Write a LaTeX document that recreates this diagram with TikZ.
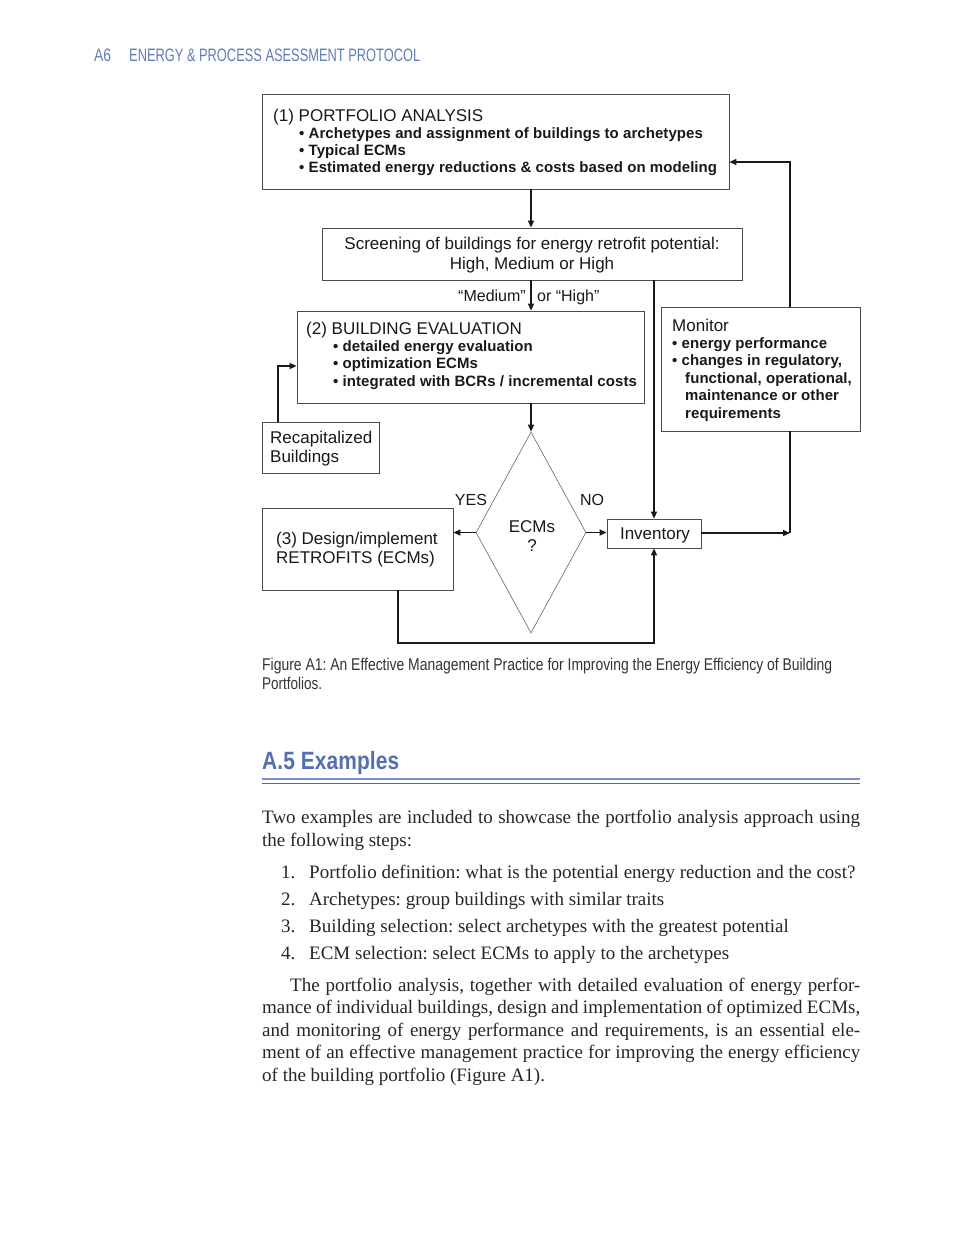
\documentclass[tikz,border=0pt]{standalone}
\usepackage{fontspec}
\usepackage{graphicx}
\setmainfont{Liberation Serif}
\newfontfamily\arialf{Liberation Sans}[BoldFeatures={LetterSpace=0.5}]
\usetikzlibrary{arrows.meta,shapes.geometric}
\definecolor{hdrblue}{RGB}{96,124,192}
\definecolor{headblue}{RGB}{84,110,182}
\definecolor{rulelight}{RGB}{120,142,206}
\definecolor{ruledark}{RGB}{78,102,176}
\begin{document}
\frenchspacing
\begin{tikzpicture}[x=1pt,y=-1pt,
  box/.style={draw=black!70, line width=0.8pt, inner sep=0pt, fill=white},
  txt/.style={anchor=base west, inner sep=0pt, font=\arialf\fontsize{17}{20}\selectfont, text=black!90},
  ctxt/.style={anchor=base, inner sep=0pt, font=\arialf\fontsize{17}{20}\selectfont, text=black!90},
  lbl/.style={inner sep=0pt, font=\arialf\fontsize{16}{19}\selectfont, text=black!90},
  btxt/.style={anchor=base west, inner sep=0pt, font=\arialf\bfseries\fontsize{15}{18}\selectfont, text=black!90},
  conn/.style={line width=1.4pt, black!90},
  arr/.style={conn, -{Triangle[length=7pt,width=6pt]}},
  body/.style={anchor=base west, inner sep=0pt, font=\fontsize{19}{22.5}\selectfont, text=black!85},
  captext/.style={anchor=base west, inner sep=0pt, font=\arialf\fontsize{17}{20}\selectfont, text=black!80}
]
\useasboundingbox[fill=white] (0,0) rectangle (954,1235);

% header
\node[anchor=base west, inner sep=0pt, text=hdrblue, font=\arialf\fontsize{18}{20}\selectfont] (hdA) at (94,61.5) {\resizebox{17pt}{\height}{A6}};
\node[anchor=base west, inner sep=0pt, text=hdrblue, font=\arialf\fontsize{18}{20}\selectfont] (hdB) at (129,61.5) {\resizebox{291pt}{\height}{ENERGY \& PROCESS ASESSMENT PROTOCOL}};

% boxes
\node[box, minimum width=467pt, minimum height=95pt] (b1) at (495.5,141.5) {};
\node[box, minimum width=420pt, minimum height=52pt] (scr) at (532,254) {};
\node[box, minimum width=347pt, minimum height=92pt] (b2) at (470.5,357) {};
\node[box, minimum width=199pt, minimum height=124pt] (mon) at (760.5,369) {};
\node[box, minimum width=117pt, minimum height=51pt] (rec) at (320.5,447.5) {};
\node[box, minimum width=191pt, minimum height=82pt] (b3) at (357.5,549) {};
\node[box, minimum width=94pt, minimum height=29pt] (inv) at (654,533.5) {};
\node[diamond, draw=black!60, line width=0.6pt, inner sep=0pt, minimum width=110pt, minimum height=201pt] (dia) at (531,532.5) {};

% box 1 text
\node[txt] (t1) at (273,121) {(1) PORTFOLIO ANALYSIS};
\node[btxt] (t1a) at (299,138.5) {•\ Archetypes and assignment of buildings to archetypes};
\node[btxt] (t1b) at (299,155.5) {•\ Typical ECMs};
\node[btxt] (t1c) at (299,172.5) {•\ Estimated energy reductions \& costs based on modeling};

% screening
\node[ctxt] (ts1) at (532,249) {Screening of buildings for energy retrofit potential:};
\node[ctxt] (ts2) at (532,269) {High, Medium or High};

% labels
\node[lbl, anchor=base east] (lm) at (526,301) {“Medium”};
\node[lbl, anchor=base west] (lh) at (537,301) {or “High”};

% box 2 text
\node[txt] (t2) at (306,334) {(2) BUILDING EVALUATION};
\node[btxt] (t2a) at (333,351) {•\ detailed energy evaluation};
\node[btxt] (t2b) at (333,368.5) {•\ optimization ECMs};
\node[btxt] (t2c) at (333,386) {•\ integrated with BCRs / incremental costs};

% monitor
\node[txt] (tm) at (672,331) {Monitor};
\node[btxt] (tma) at (672,348) {•\ energy performance};
\node[btxt] (tmb) at (672,365.5) {•\ changes in regulatory,};
\node[btxt] (tmc) at (685,383) {functional, operational,};
\node[btxt] (tmd) at (685,400.5) {maintenance or other};
\node[btxt] (tme) at (685,418) {requirements};

% recap
\node[txt] (tr1) at (270,443) {Recapitalized};
\node[txt] (tr2) at (270,462) {Buildings};

% box 3
\node[txt] (t3a) at (276,544) {(3) Design/implement};
\node[txt] (t3b) at (276,563) {RETROFITS (ECMs)};

% diamond text
\node[ctxt] (te1) at (532,532) {ECMs};
\node[ctxt] (te2) at (532,551) {?};
\node[lbl, anchor=base] (yes) at (471,505) {YES};
\node[lbl, anchor=base] (no) at (592,505) {NO};

% inventory
\node[ctxt] (ti) at (655,539.5) {Inventory};

% connectors
\coordinate (rc) at (278,366);
\coordinate (c3) at (398,643);
\coordinate (c4) at (790,533);
\coordinate (c5) at (790,162);
\draw[arr] (b1.south -| dia.north) -- (scr.north -| dia.north);
\draw[arr] (scr.south -| dia.north) -- (b2.north -| dia.north);
\draw[arr] (scr.south -| inv.north) -- (inv.north);
\draw[arr] (rec.north -| rc) -- (rc) -- (b2.west |- rc);
\draw[arr] (b2.south -| dia.north) -- (dia.north);
\draw[arr] (dia.west) -- (b3.east |- dia.west);
\draw[arr] (dia.east) -- (inv.west |- dia.east);
\draw[arr] (b3.south -| c3) -- (c3) -- (c3 -| inv.south) -- (inv.south);
\draw[arr] (inv.east |- c4) -- (c4);
\draw[conn] (mon.south -| c4) -- (c4);
\draw[arr] (mon.north -| c5) -- (c5) -- (b1.east |- c5);

% caption
\node[captext] (cap1) at (262,670) {\resizebox{570pt}{\height}{Figure A1: An Effective Management Practice for Improving the Energy Efficiency of Building}};
\node[captext] (cap2) at (262,689) {\resizebox{60pt}{\height}{Portfolios.}};

% heading
\node[anchor=base west, inner sep=0pt, text=headblue, font=\arialf\bfseries\fontsize{25}{28}\selectfont] (head) at (262,769) {\resizebox{137pt}{\height}{A.5 Examples}};
\draw[rulelight, line width=2.6pt] (262,779) -- (860,779);
\draw[ruledark, line width=1.3pt] (262,783.2) -- (860,783.2);

% body
\node[body] (p1) at (262,823) {\makebox[598pt][s]{Two examples are included to showcase the portfolio analysis approach using}};
\node[body] (p2) at (262,846) {the following steps:};
\node[body] (n1) at (281,878) {1.};
\node[body] (l1) at (309,878) {Portfolio definition: what is the potential energy reduction and the cost?};
\node[body] (n2) at (281,905) {2.};
\node[body] (l2) at (309,905) {Archetypes: group buildings with similar traits};
\node[body] (n3) at (281,932) {3.};
\node[body] (l3) at (309,932) {Building selection: select archetypes with the greatest potential};
\node[body] (n4) at (281,959) {4.};
\node[body] (l4) at (309,959) {ECM selection: select ECMs to apply to the archetypes};
\node[body] (q1) at (290,991) {\makebox[570pt][s]{The portfolio analysis, together with detailed evaluation of energy perfor-}};
\node[body] (q2) at (262,1013.5) {\makebox[598pt][s]{mance of individual buildings, design and implementation of optimized ECMs,}};
\node[body] (q3) at (262,1036) {\makebox[598pt][s]{and monitoring of energy performance and requirements, is an essential ele-}};
\node[body] (q4) at (262,1058.5) {\makebox[598pt][s]{ment of an effective management practice for improving the energy efficiency}};
\node[body] (q5) at (262,1081) {of the building portfolio (Figure A1).};
\end{tikzpicture}
\end{document}
